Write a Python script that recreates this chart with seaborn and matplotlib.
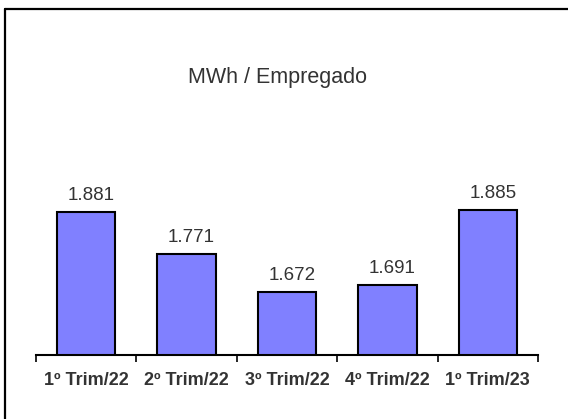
import matplotlib
matplotlib.use("Agg")
import matplotlib.pyplot as plt
from matplotlib.lines import Line2D
import seaborn as sns
import pandas as pd

periods = ["1º Trim/22", "2º Trim/22", "3º Trim/22", "4º Trim/22", "1º Trim/23"]
mwh_per_employee = [1.881, 1.771, 1.672, 1.691, 1.885]
value_labels = ["1.881", "1.771", "1.672", "1.691", "1.885"]

sns.set_theme(style="white")
plt.rcParams["font.family"] = ["Liberation Sans", "DejaVu Sans"]

W, H = 568, 419
fig = plt.figure(figsize=(W / 100, H / 100), dpi=100)
fig.patch.set_facecolor("white")

ax_left, ax_right = 36, 538
ax_bottom, ax_top = 355, 55
ax = fig.add_axes([ax_left / W, (H - ax_bottom) / H,
                   (ax_right - ax_left) / W, (ax_bottom - ax_top) / H])

df = pd.DataFrame({"periodo": periods, "valor": mwh_per_employee})
sns.barplot(data=df, x="periodo", y="valor", color="#8080FF", saturation=1,
            width=0.58, edgecolor="black", linewidth=1.5, ax=ax)

ymin = 1.507
ax.set_ylim(ymin, ymin + 300 * 0.002615)
ax.set_xlim(-0.5, len(periods) - 0.5)

for i, (v, lab) in enumerate(zip(mwh_per_employee, value_labels)):
    ax.annotate(lab, (i, v), xytext=(5, 8), textcoords="offset pixels",
                ha="center", va="bottom", fontsize=13.5, color="#333333")

# category axis: ticks between groups, labels at centers
for s in ["left", "right", "top"]:
    ax.spines[s].set_visible(False)
ax.spines["bottom"].set_color("black")
ax.spines["bottom"].set_linewidth(1.5)
ax.set_yticks([])
ax.set_ylabel("")
ax.set_xlabel("")
ax.set_xticks([i - 0.5 for i in range(len(periods) + 1)], minor=True)
ax.set_xticks(range(len(periods)))
ax.set_xticklabels(periods, fontsize=13, fontweight="bold", color="#333333")
ax.tick_params(axis="x", which="major", length=0, pad=12)
ax.tick_params(axis="x", which="minor", length=5, width=1.2, color="black",
               direction="out", bottom=True)
ax.set_facecolor("white")

fig.text(277 / W, 1 - 78 / H, "MWh / Empregado", ha="center", va="center",
         fontsize=15.5, color="#333333")

# frame lines along the left and top edges
fig.add_artist(Line2D([5 / W, 5 / W], [0, 1 - 9 / H], transform=fig.transFigure,
                      color="black", linewidth=1.6))
fig.add_artist(Line2D([5 / W, 1], [1 - 9 / H, 1 - 9 / H], transform=fig.transFigure,
                      color="black", linewidth=1.6))

fig.savefig("out.png", dpi=100)
